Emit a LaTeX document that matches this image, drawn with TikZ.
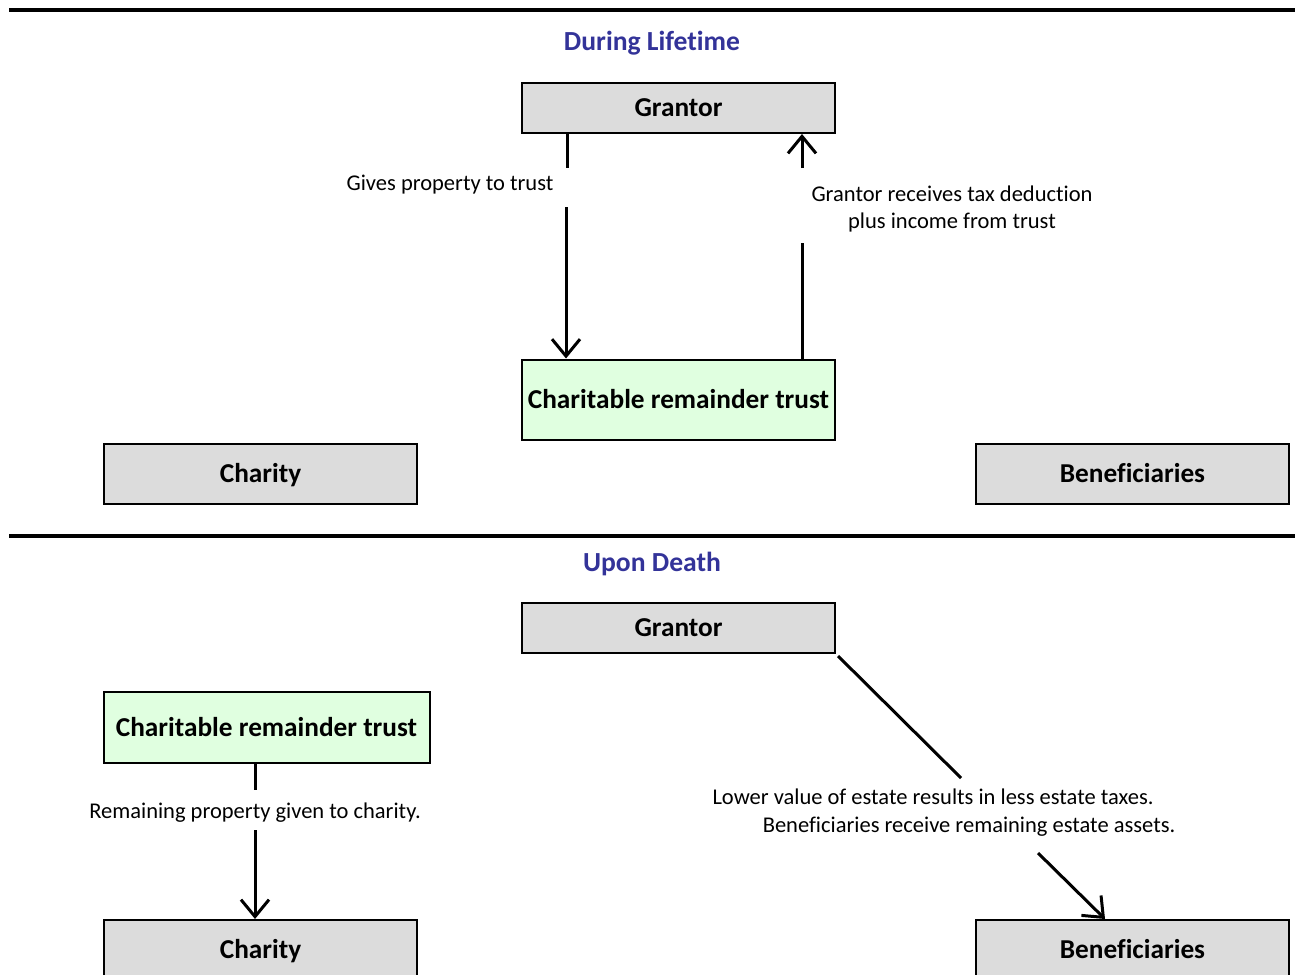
\documentclass[tikz,border=0pt]{standalone}
\usepackage{fontspec}
\setmainfont{Carlito}[Ligatures={NoCommon}]
\usetikzlibrary{arrows.meta}
\definecolor{titleblue}{HTML}{333399}
\definecolor{boxgray}{HTML}{DCDCDC}
\definecolor{trustgreen}{HTML}{E0FFE0}
\begin{document}
\begin{tikzpicture}[x=1pt,y=-1pt,
  partybox/.style={draw=black, line width=2pt, fill=boxgray, inner sep=0pt,
    minimum width=313pt, text height=20.5pt, text depth=2.7pt,
    font=\fontsize{27.3}{30}\selectfont\bfseries},
  trustbox/.style={partybox, fill=trustgreen},
  heading/.style={font=\fontsize{27.6}{30}\selectfont\bfseries, text=titleblue,
    text height=20.5pt, text depth=2.7pt},
  note/.style={font=\fontsize{22.5}{27}\selectfont, inner sep=0pt, align=center,
    text height=17pt, text depth=2.3pt},
  link/.style={line width=3pt},
  flow/.style={link, -{Straight Barb[length=17pt,width=28pt,line width=3pt]}}]
\useasboundingbox (0,0) rectangle (1295,974);
\fill[white] (0,0) rectangle (1295,974);

% section rules
\draw[line width=4pt] (9,10) -- (1295,10);
\draw[line width=4pt] (9,536) -- (1295,536);

% ---- During Lifetime ----
\node[heading] (h1) at (652,42) {During Lifetime};
\node[partybox, minimum height=50pt] (g1) at (678.5,108) {Grantor};
\node[trustbox, minimum height=80pt] (t1) at (678.5,399.5) {Charitable remainder trust};
\node[partybox, minimum height=60pt] (c1) at (260.5,474) {Charity};
\node[partybox, minimum height=60pt] (b1) at (1132.5,474) {Beneficiaries};

\node[note] (l1) at (450,183) {Gives property to trust};
\node[note] (l2) at (952,221) {Grantor receives tax deduction\\plus income from trust};

\coordinate (d1a) at (567,168);
\coordinate (d1b) at (566,207);
\draw[link] (g1.south -| d1a) -- (d1a);
\draw[flow] (d1b) -- (d1b |- t1.north);

\coordinate (u1a) at (802,243);
\coordinate (u1b) at (802,168);
\draw[link] (t1.north -| u1a) -- (u1a);
\draw[flow] (u1b) -- (u1b |- g1.south);

% ---- Upon Death ----
\node[heading] (h2) at (652,563) {Upon Death};
\node[partybox, minimum height=50pt] (g2) at (678.5,628) {Grantor};
\node[trustbox, minimum width=326pt, minimum height=71pt] (t2) at (266.5,727.5) {Charitable remainder trust};
\node[partybox, minimum height=60pt] (c2) at (260.5,950) {Charity};
\node[partybox, minimum height=60pt] (b2) at (1132.5,950) {Beneficiaries};

\node[note] (l3) at (255,811) {Remaining property given to charity.};
\node[note] (l4) at (933,797) {Lower value of estate results in less estate taxes.};
\node[note] (l5) at (969,825) {Beneficiaries receive remaining estate assets.};

\coordinate (d2a) at (255,790);
\coordinate (d2b) at (255,830);
\draw[link] (t2.south -| d2a) -- (d2a);
\draw[flow] (d2b) -- (d2b |- c2.north);

\coordinate (e2a) at (961,778);
\coordinate (e2b) at (1038,853);
\coordinate (e2c) at (1105,920);
\draw[link] (g2.south east) ++(2,2) -- (e2a);
\draw[flow] (e2b) -- (e2c |- b2.north);
\end{tikzpicture}
\end{document}
